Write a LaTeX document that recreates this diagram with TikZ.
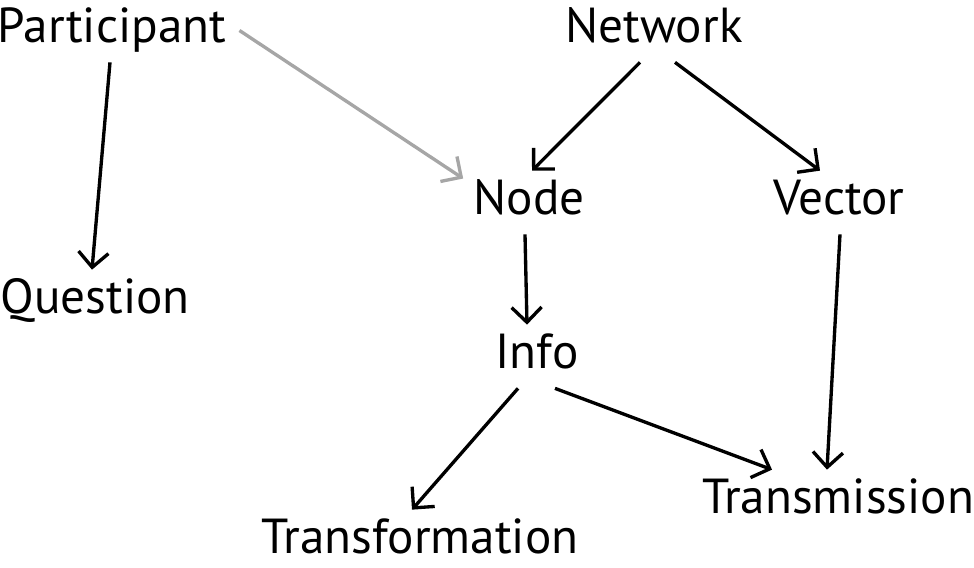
\documentclass[tikz,border=0pt]{standalone}
\usepackage{fontspec}
\setmainfont{PT Sans}
\usetikzlibrary{arrows.meta,positioning}

\begin{document}
\begin{tikzpicture}[
    term/.style={inner sep=0.2cm, anchor=base, text height=0.66cm,
      text depth=0.2cm, font=\fontsize{28}{32}\selectfont},
    arr/.style={-{Straight Barb[length=0.3cm, width=0.6cm]}, line width=1.9pt},
    link/.style={arr, black!35},
  ]
  \useasboundingbox (0,0) rectangle (19.48,-11.34);

  % --- concepts ---
  \node[term] (part) at (2.24, -0.84) {Participant};
  \node[term] (net) at (13.08, -0.84) {Network};
  \node[term] (node) at (10.58, -4.28) {Node};
  \node[term] (vec) at (16.78, -4.28) {Vector};
  \node[term] (ques) at (1.90, -6.26) {Question};
  \node[term] (info) at (10.74, -7.36) {Info};
  \node[term] (tfm) at (8.40, -11.06) {Transformation};
  \node[term] (trans) at (16.76, -10.26) {Transmission};

  % --- relations ---
  \draw[arr] ([xshift=-0.04cm]part.south) -- ([xshift=-0.06cm]ques.north);
  \draw[link] ([xshift=0.06cm]part.east) -- (node.160);
  \draw[arr] ([xshift=-0.28cm]net.south) -- ([xshift=0.06cm]node.north);
  \draw[arr] ([xshift=0.42cm]net.south) -- ([xshift=-0.38cm]vec.north);
  \draw[arr] ([xshift=-0.08cm]node.south) -- ([xshift=-0.2cm]info.north);
  \draw[arr] ([xshift=0.02cm]vec.south) -- ([xshift=-0.22cm]trans.north);
  \draw[arr] ([xshift=-0.38cm]info.south) -- ([xshift=-0.16cm]tfm.north);
  \draw[arr] ([xshift=0.36cm]info.south) -- ([xshift=-1.32cm]trans.north);

\end{tikzpicture}
\end{document}
